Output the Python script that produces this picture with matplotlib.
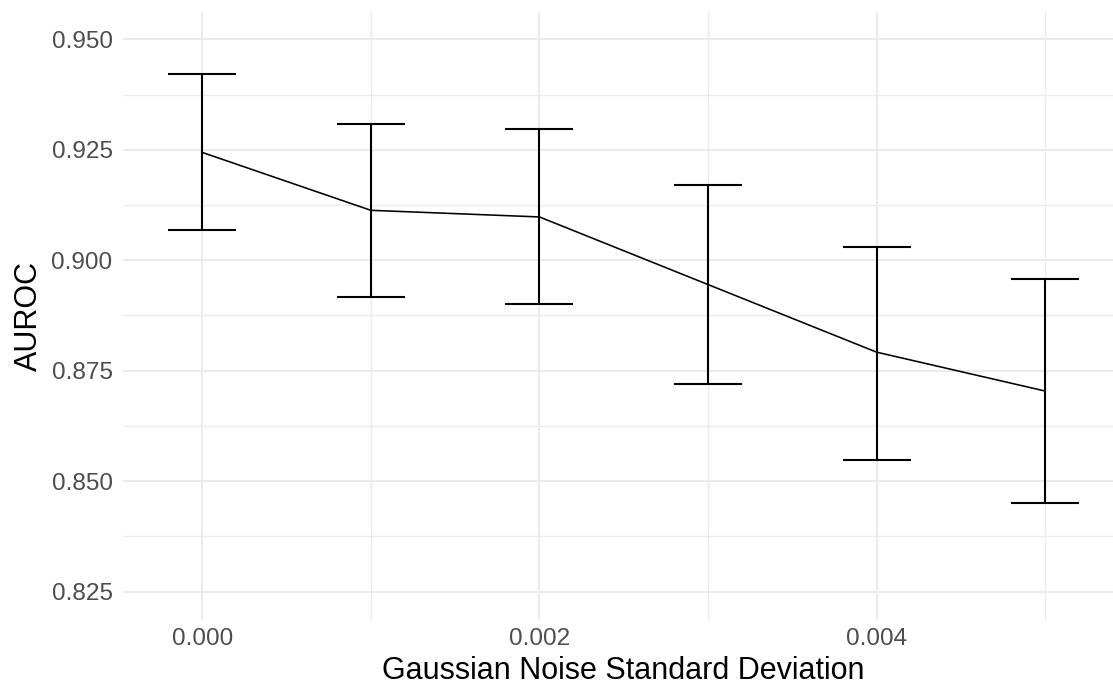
import matplotlib
matplotlib.use("Agg")
import matplotlib.pyplot as plt
from matplotlib.ticker import MultipleLocator, FormatStrFormatter

# Gaussian noise std vs AUROC (mean with error bar bounds)
noise_sd = [0.000, 0.001, 0.002, 0.003, 0.004, 0.005]
auroc_mean = [0.9244, 0.9113, 0.9098, 0.8945, 0.8792, 0.8704]
auroc_upper = [0.9421, 0.9309, 0.9297, 0.9171, 0.9031, 0.8958]
auroc_lower = [0.9069, 0.8917, 0.8900, 0.8719, 0.8549, 0.8450]

plt.rcParams['font.family'] = ['Liberation Sans', 'DejaVu Sans']

fig = plt.figure(figsize=(11.13, 6.84), dpi=100)
# panel runs a little past the right edge, like the original (clipped)
ax = fig.add_axes([0.1105, 0.0936, 0.8998, 0.8889])

err_lo = [m - l for m, l in zip(auroc_mean, auroc_lower)]
err_hi = [u - m for m, u in zip(auroc_mean, auroc_upper)]

ax.plot(noise_sd, auroc_mean, color='black', lw=1.15, zorder=3)
ax.errorbar(noise_sd, auroc_mean, yerr=[err_lo, err_hi], fmt='none',
            ecolor='black', elinewidth=1.5, capsize=24.3, capthick=1.5, zorder=3)

ax.set_xlim(-0.00047, 0.00547)
ax.set_ylim(0.8186, 0.95618)
ax.xaxis.set_major_locator(MultipleLocator(0.002))
ax.xaxis.set_minor_locator(MultipleLocator(0.001))
ax.yaxis.set_major_locator(MultipleLocator(0.025))
ax.yaxis.set_minor_locator(MultipleLocator(0.0125))
ax.xaxis.set_major_formatter(FormatStrFormatter('%.3f'))
ax.yaxis.set_major_formatter(FormatStrFormatter('%.3f'))

ax.grid(which='major', color='#EBEBEB', lw=1.4)
ax.grid(which='minor', color='#EBEBEB', lw=1.0)
ax.set_axisbelow(True)
for s in ax.spines.values():
    s.set_visible(False)
ax.tick_params(which='both', length=0)
ax.tick_params(axis='y', labelsize=17.6, labelcolor='#4D4D4D', pad=7.5)
ax.tick_params(axis='x', labelsize=17.6, labelcolor='#4D4D4D', pad=5.5)

# axis titles
fig.text(623.7 / 1113, 1 - 679 / 684, 'Gaussian Noise Standard Deviation',
         fontsize=22, ha='center', va='baseline')
fig.text(28.5 / 1113, 1 - 316 / 684, 'AUROC', fontsize=22, rotation=90,
         ha='center', va='center')

fig.savefig('out.png', dpi=100)
